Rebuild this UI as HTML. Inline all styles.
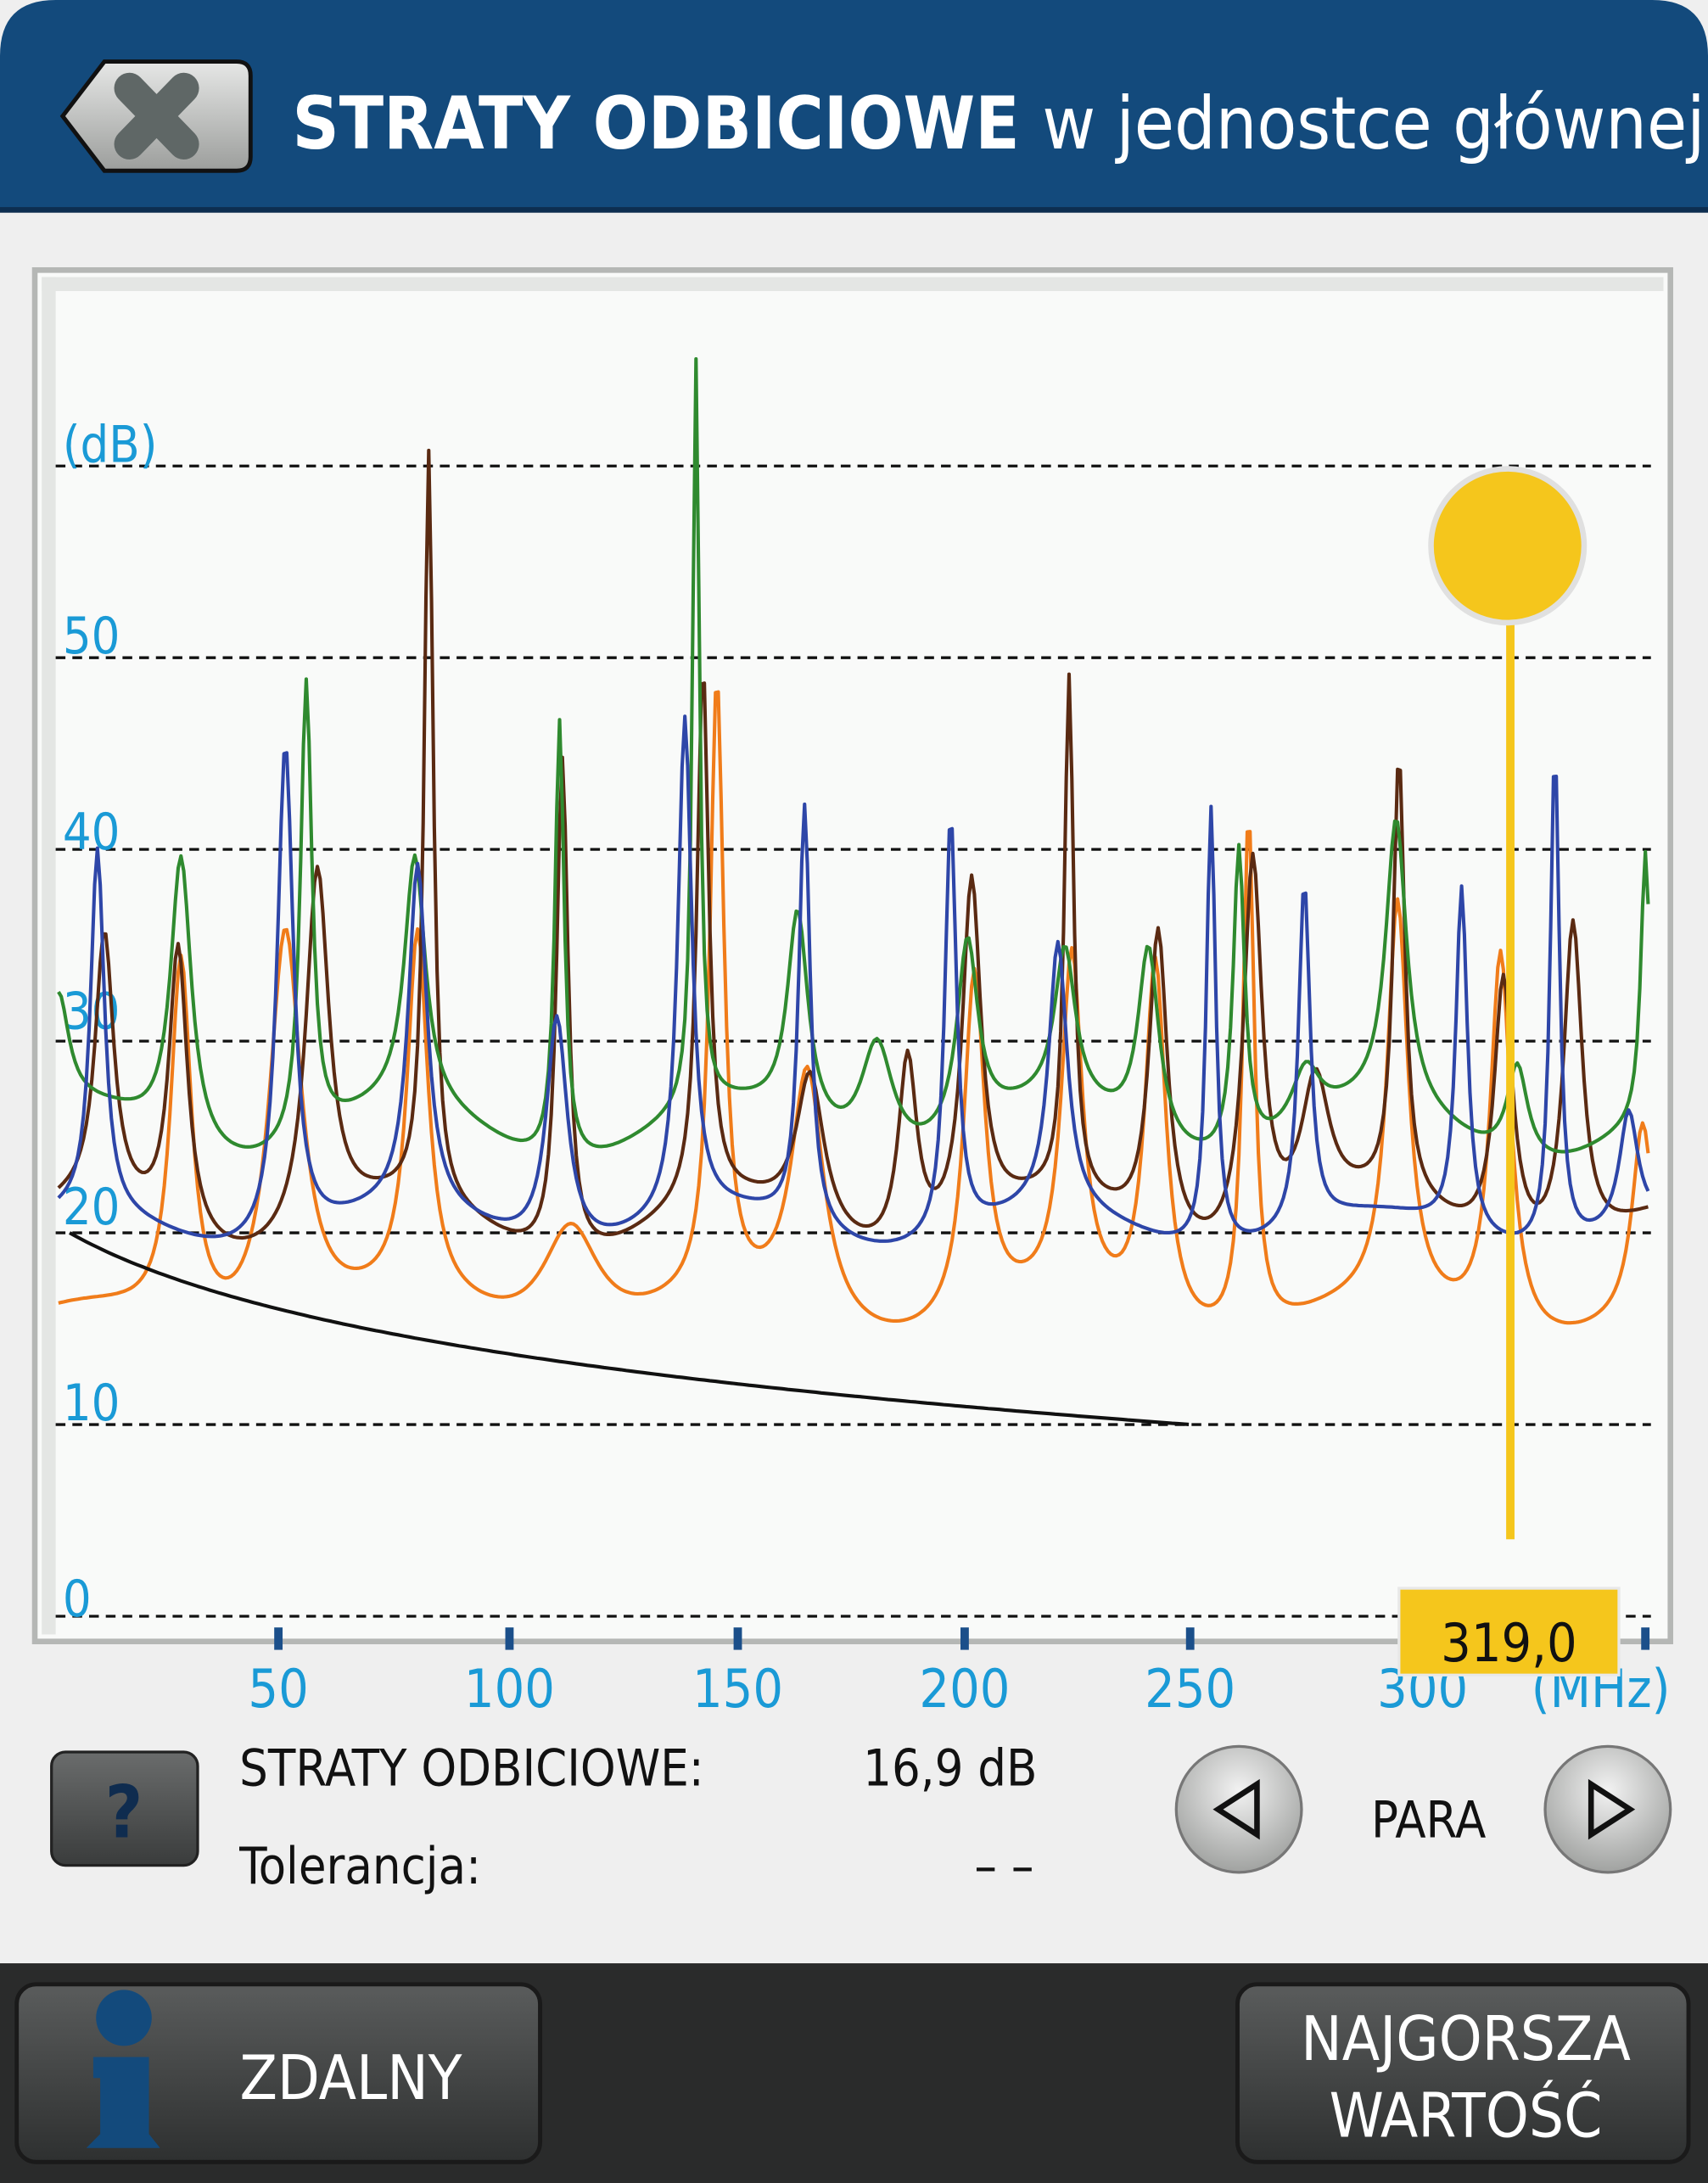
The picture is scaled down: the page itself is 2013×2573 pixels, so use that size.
<!DOCTYPE html>
<html><head><meta charset="utf-8">
<style>
html,body{margin:0;padding:0;background:#efefef;}
svg{display:block;}
text{font-family:"DejaVu Sans Condensed","Liberation Sans",sans-serif;}
</style></head>
<body>
<svg id="s" width="2013" height="2573" viewBox="0 0 1227 1560" preserveAspectRatio="none" xmlns="http://www.w3.org/2000/svg">
<defs>
<linearGradient id="gb" x1="0" y1="0" x2="0" y2="1"><stop offset="0" stop-color="#e6e7e6"/><stop offset="1" stop-color="#9c9e9c"/></linearGradient>
<linearGradient id="fb" x1="0" y1="0" x2="0" y2="1"><stop offset="0" stop-color="#5a5c5c"/><stop offset="1" stop-color="#2e3030"/></linearGradient>
<linearGradient id="qb" x1="0" y1="0" x2="0" y2="1"><stop offset="0" stop-color="#6a6c6c"/><stop offset="1" stop-color="#3a3c3c"/></linearGradient>
<radialGradient id="cb" cx="0.5" cy="0.35" r="0.7"><stop offset="0" stop-color="#f2f2f2"/><stop offset="1" stop-color="#9a9c9a"/></radialGradient>
</defs>
<rect x="0" y="0" width="1227" height="1560" fill="#efefef"/>
<!-- header -->
<path d="M0 150 V40 Q0 0 40 0 H1187 Q1227 0 1227 40 V150 Z" fill="#134a7c"/>
<rect x="0" y="148" width="1227" height="4" fill="#0d2e50"/>
<path d="M75 44 H170 Q180 44 180 54 V112 Q180 122 170 122 H75 L45 83 Z" fill="url(#gb)" stroke="#111" stroke-width="3"/>
<path d="M93 63 L132 103 M132 63 L93 103" stroke="#5f6766" stroke-width="22" stroke-linecap="round"/>
<text x="210" y="106" fill="#fff" font-size="52" font-weight="bold">STRATY ODBICIOWE <tspan font-weight="normal">w jednostce głównej</tspan></text>
<!-- chart frame -->
<rect x="25" y="193" width="1175" height="980" fill="#f9faf9" stroke="#b5b7b5" stroke-width="4"/>
<rect x="30" y="198" width="1165" height="10" fill="#e4e6e4"/>
<rect x="30" y="198" width="10" height="970" fill="#e4e6e4"/>
<g id="grid" stroke="#111" stroke-width="2" stroke-dasharray="7,5"></g>
<g fill="#1a9ad6" font-size="36">
<text x="45" y="330">(dB)</text><text x="45" y="467">50</text><text x="45" y="607">40</text>
<text x="45" y="735">30</text><text x="45" y="875">20</text><text x="45" y="1015">10</text><text x="45" y="1155">0</text>
</g>
<g id="series" fill="none" stroke-width="2.5" stroke-linejoin="round"></g>
<!-- ticks -->
<g fill="#1b4f8a">
<rect x="197" y="1163" width="6" height="16"/><rect x="363" y="1163" width="6" height="16"/><rect x="527" y="1163" width="6" height="16"/>
<rect x="690" y="1163" width="6" height="16"/><rect x="852" y="1163" width="6" height="16"/><rect x="1179" y="1163" width="6" height="16"/>
</g>
<g fill="#1a9ad6" font-size="38" text-anchor="middle">
<text x="200" y="1220">50</text><text x="366" y="1220">100</text><text x="530" y="1220">150</text>
<text x="693" y="1220">200</text><text x="855" y="1220">250</text><text x="1022" y="1220">300</text><text x="1150" y="1220">(MHz)</text>
</g>
<!-- cursor -->
<rect x="1082" y="445" width="6" height="655" fill="#f5c61c"/>
<circle cx="1083" cy="390" r="55" fill="#f5c61c" stroke="#e0e0e0" stroke-width="4"/>
<rect x="1005" y="1135" width="158" height="62" fill="#f5c61c" stroke="#e8e8e8" stroke-width="2"/>
<text x="1084" y="1187" fill="#111" font-size="38" text-anchor="middle">319,0</text>
<!-- info row -->
<rect x="37" y="1252" width="105" height="81" rx="10" fill="url(#qb)" stroke="#222" stroke-width="2"/>
<text x="89" y="1313" fill="#0f2c4f" font-size="52" font-weight="bold" text-anchor="middle">?</text>
<g fill="#111" font-size="36">
<text x="172" y="1276">STRATY ODBICIOWE:</text>
<text x="620" y="1276">16,9 dB</text>
<text x="172" y="1346">Tolerancja:</text>
<text x="700" y="1346">– –</text>
<text x="985" y="1313">PARA</text>
</g>
<circle cx="890" cy="1293" r="45" fill="url(#cb)" stroke="#777" stroke-width="2"/>
<path d="M903 1275 L875 1293 L903 1311 Z" fill="none" stroke="#111" stroke-width="4"/>
<circle cx="1155" cy="1293" r="45" fill="url(#cb)" stroke="#777" stroke-width="2"/>
<path d="M1143 1275 L1171 1293 L1143 1311 Z" fill="none" stroke="#111" stroke-width="4"/>
<!-- footer -->
<rect x="0" y="1403" width="1227" height="157" fill="#2a2b2b"/>
<rect x="12" y="1418" width="376" height="127" rx="14" fill="url(#fb)" stroke="#1a1a1a" stroke-width="3"/>
<circle cx="89" cy="1442" r="20" fill="#134a7c"/>
<path d="M67 1470 H107 V1525 L115 1535 H62 L72 1525 V1485 H67 Z" fill="#134a7c"/>
<text x="252" y="1500" fill="#fff" font-size="44" text-anchor="middle">ZDALNY</text>
<rect x="889" y="1418" width="324" height="127" rx="14" fill="url(#fb)" stroke="#1a1a1a" stroke-width="3"/>
<text x="1053" y="1472" fill="#fff" font-size="44" text-anchor="middle">NAJGORSZA</text>
<text x="1053" y="1527" fill="#fff" font-size="44" text-anchor="middle">WARTOŚĆ</text>
</svg>
<script>
var NS="http://www.w3.org/2000/svg";
function Y(d){return 1155-d*13.7;}
var g=document.getElementById('grid');
[60,50,40,30,20,10,0].forEach(function(d){var l=document.createElementNS(NS,'line');l.setAttribute('x1',40);l.setAttribute('x2',1186);l.setAttribute('y1',Y(d));l.setAttribute('y2',Y(d));g.appendChild(l);});
var S=document.getElementById('series');
function curve(color,base,peaks,w,wob){
 var p='';
 for(var x=42;x<=1184;x+=2){
  var v=base+wob*Math.sin(x/37);
  for(var i=0;i<peaks.length;i++){var k=peaks[i];var t=(x-k[0])/(k[2]||w);v+=(k[1]-base)/(1+t*t);}
  v=Math.min(v,68);
  p+=(x==42?'M':'L')+x+' '+Y(v).toFixed(1);
 }
 var e=document.createElementNS(NS,'path');e.setAttribute('d',p);e.setAttribute('stroke',color);S.appendChild(e);
}
curve('#f07c1a',15,[[130,34],[205,36,14],[300,34],[410,21,25],[515,47,6],[580,28,14],[700,33],[770,33],[830,34],[897,42,5],[1004,36],[1078,35],[1180,25]],9,1);
curve('#5a2a12',20,[[75,34],[128,35],[228,39,10],[308,59,4],[404,46,5],[505,48,5],[582,28,12],[652,30],[698,38],[768,47,4],[832,36],[900,40],[945,27,12],[1005,43,5],[1080,34],[1130,37]],8,1.5);
curve('#2f8a2f',25,[[42,31],[130,40],[220,49,5],[298,38],[402,48,4],[500,64,3],[573,36],[630,31,14],[695,35],[765,33],[825,35],[890,41,5],[938,28,12],[1003,40],[1090,30],[1182,39,4]],9,1.5);
curve('#2e46a8',20,[[70,39,6],[205,46,7],[300,38],[400,32,9],[492,46,6],[578,42,5],[683,42,5],[760,34],[870,43,4],[937,38,5],[1050,38,5],[1117,46,4],[1170,26]],8,1);
var b='';for(var x=50;x<=855;x+=4){var d=20-10*Math.log(1+(x-50)/120)/Math.log(1+805/120);b+=(x==50?'M':'L')+x+' '+Y(d).toFixed(1);}
var e=document.createElementNS(NS,'path');e.setAttribute('d',b);e.setAttribute('stroke','#111');S.appendChild(e);
</script>
</body></html>
